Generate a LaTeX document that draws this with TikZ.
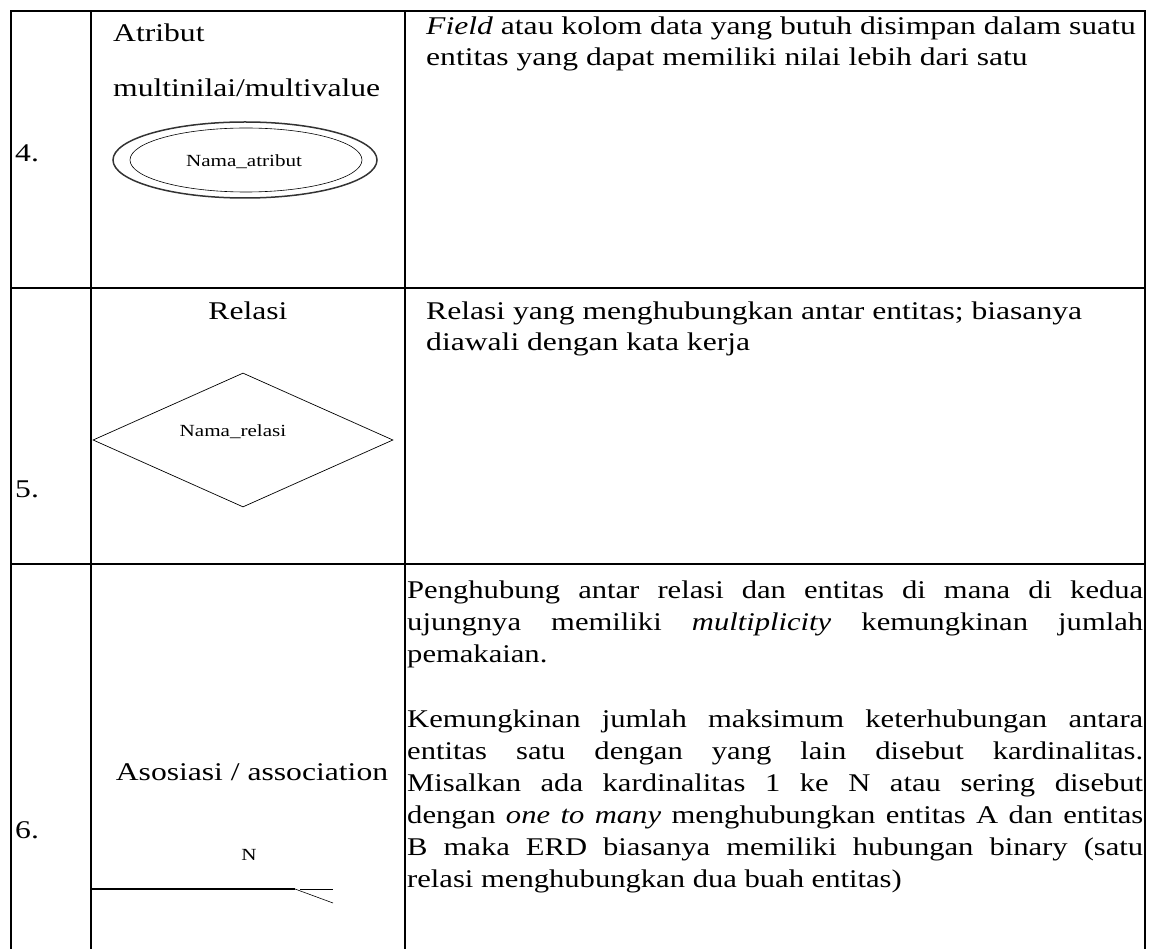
\documentclass[tikz,border=0pt]{standalone}
\usepackage{fontspec}
\setmainfont{Liberation Serif}[FakeStretch=1.24]
\newfontfamily\narrowserif{Liberation Serif}[FakeStretch=1.2]
\usetikzlibrary{positioning,shapes.geometric}
\hyphenpenalty=10000
\exhyphenpenalty=10000
\tikzset{
    grid line/.style = {
        line width=1.6pt,
        },
    cell text/.style = {
        inner sep=0pt,
        anchor=base west,
        font=\fontsize{25.5}{31}\selectfont,
        },
    head text/.style = {
        inner sep=0pt,
        anchor=base,
        font=\fontsize{25.5}{31}\selectfont,
        },
    symbol text/.style = {
        inner sep=0pt,
        anchor=base,
        font=\fontsize{17}{21}\selectfont,
        },
    long text/.style = {
        inner sep=0pt,
        anchor=base west,
        text width=736pt,
        align=justify,
        font=\narrowserif\fontsize{25.5}{32.1}\selectfont,
        },
    multi inner/.style = {
        draw, ellipse,
        line width=0.6pt,
        minimum width=232pt,
        minimum height=64pt,
        inner sep=0pt,
        },
    multi outer/.style = {
        draw=black!80, ellipse,
        line width=1.5pt,
        minimum width=264pt,
        minimum height=76pt,
        },
    relation/.style = {
        draw, diamond,
        line width=0.7pt,
        minimum width=300pt,
        minimum height=134pt,
        inner sep=0pt,
        },
    link/.style = {
        line width=1.6pt,
        },
    crow/.style = {
        line width=0.6pt,
        },
}

\begin{document}
\begin{tikzpicture}[x=1pt,y=-1pt]
            \useasboundingbox (0,0) rectangle (1160,949);

            % table
            \draw[grid line] (11,949) -- (11,11) -- (1145,11) -- (1145,949);
            \draw[grid line] (91,11) -- (91,949);
            \draw[grid line] (405,11) -- (405,949);
            \draw[grid line] (11,288) -- (1145,288);
            \draw[grid line] (11,564) -- (1145,564);

            % row 4
            \node[cell text] (no4) at (15,162) {4.};
            \node[cell text] (multitop) at (113,42) {Atribut};
            \node[cell text] (multibot) at (113,97) {multinilai/multivalue};
            \node[multi outer] (atrout) at (245,160) {};
            \node[multi inner] (atrin) at (246,160) {};
            \node[symbol text] (atrname) at (244,167) {Nama\_atribut};
            \node[cell text] (desc4a) at (426,35) {\emph{Field} atau kolom data yang butuh disimpan dalam suatu};
            \node[cell text] (desc4b) at ([yshift=-31pt]desc4a.base west) {entitas yang dapat memiliki nilai lebih dari satu};

            % row 5
            \node[cell text] (no5) at (15,497) {5.};
            \node[head text] (reltitle) at (248,320) {Relasi};
            \node[relation] (rel) at (243,440) {};
            \node[symbol text] (relname) at (233,437) {Nama\_relasi};
            \node[cell text] (desc5a) at (426,320) {Relasi yang menghubungkan antar entitas; biasanya};
            \node[cell text] (desc5b) at ([yshift=-31pt]desc5a.base west) {diawali dengan kata kerja};

            % row 6
            \node[cell text] (no6) at (15,838) {6.};
            \node[head text] (asstitle) at (252,780) {Asosiasi / association};
            \node[symbol text] (card) at (249,860) {N};
            \coordinate (linkstart) at (91,889);
            \coordinate (linkend) at (295,889);
            \coordinate (crowfrom) at (300,889);
            \coordinate (crowtop) at (333,889);
            \coordinate (crowbot) at (333,903);
            \draw[link] (linkstart) -- (linkend);
            \draw[crow] (crowfrom) -- (crowtop);
            \draw[crow] (linkend) -- (crowbot);
            \node[long text] (desc6a) at (407,598) {Penghubung antar relasi dan entitas di mana di kedua\linebreak
                ujungnya memiliki \emph{multiplicity} kemungkinan jumlah\linebreak
                pemakaian.};
            \node[long text] (desc6b) at (407,727) {Kemungkinan jumlah maksimum keterhubungan antara\linebreak
                entitas satu dengan yang lain disebut kardinalitas.\linebreak
                Misalkan ada kardinalitas 1 ke N atau sering disebut\linebreak
                dengan \emph{one to many} menghubungkan entitas A dan entitas\linebreak
                B maka ERD biasanya memiliki hubungan binary (satu\linebreak
                relasi menghubungkan dua buah entitas)};
        \end{tikzpicture}
\end{document}
